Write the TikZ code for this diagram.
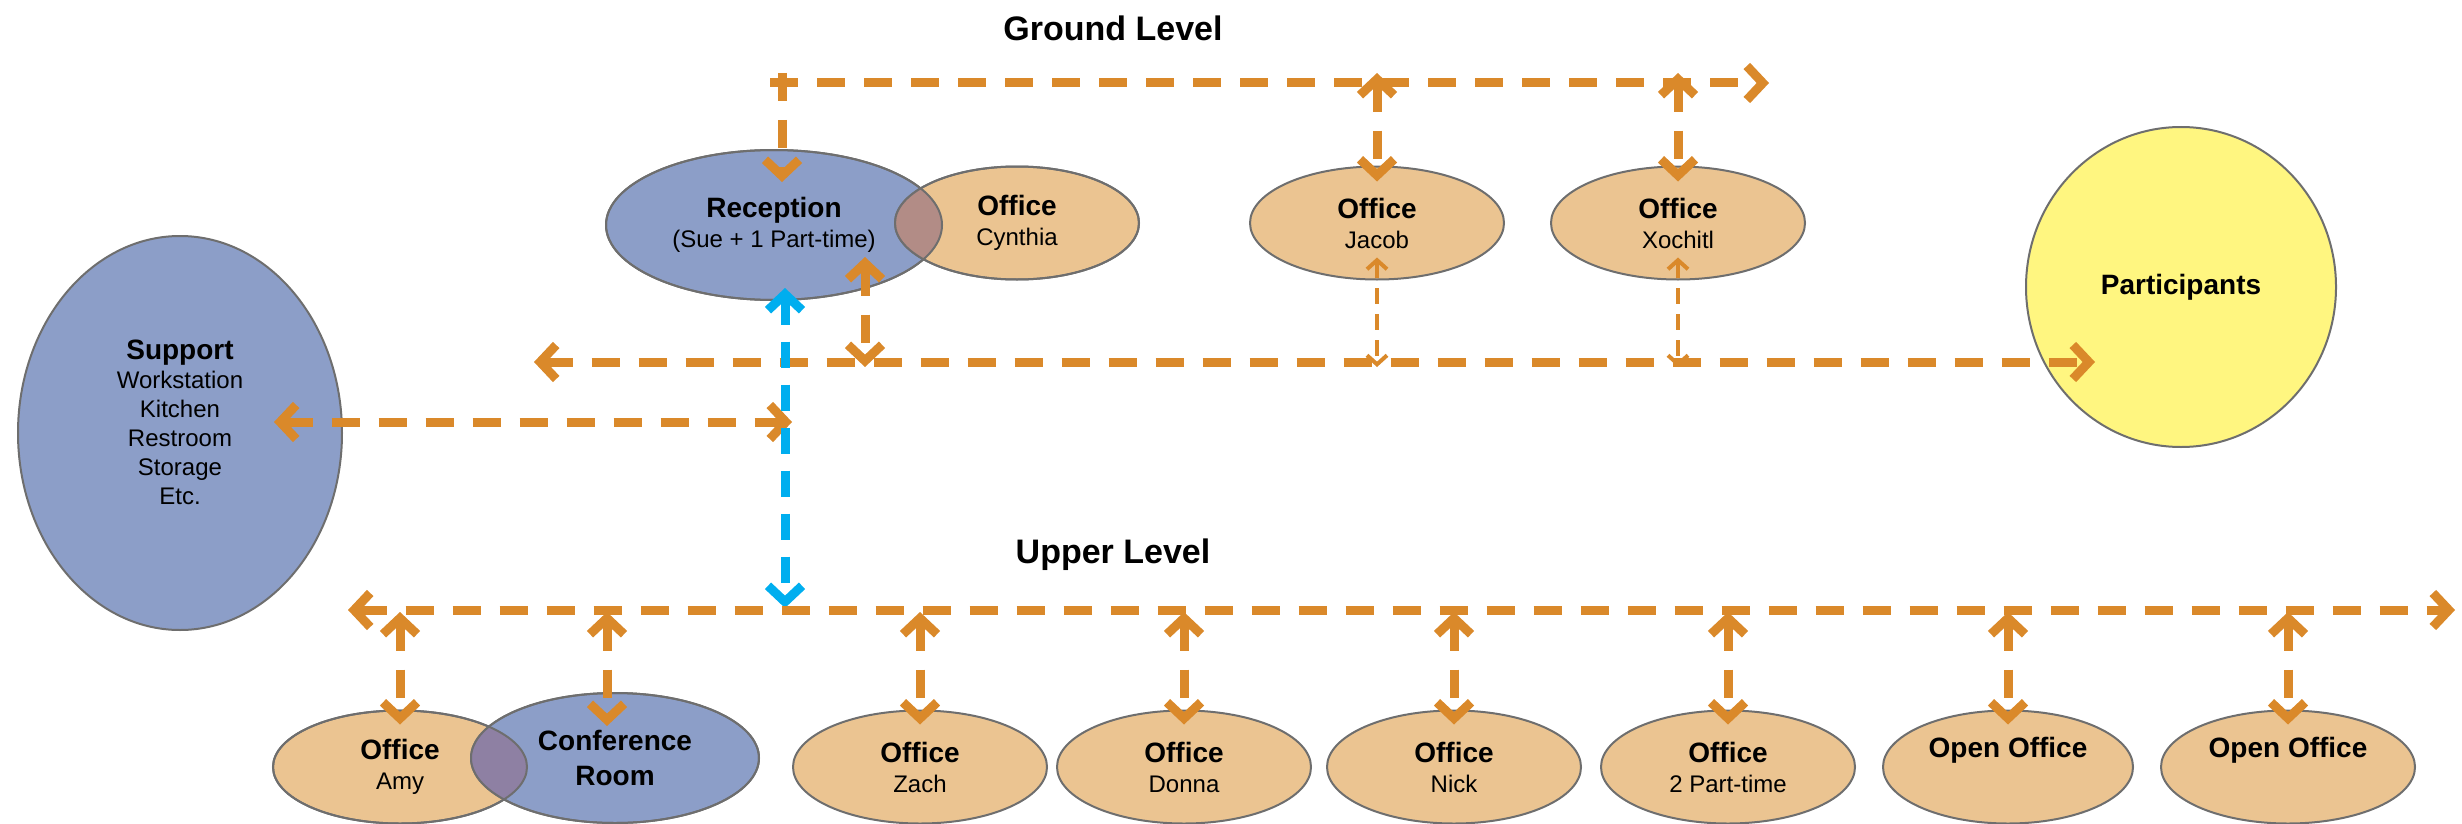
\documentclass[tikz,border=0pt]{standalone}
\usepackage{fontspec}
\setmainfont{Liberation Sans}
\usetikzlibrary{shapes.geometric,arrows.meta,calc}
\definecolor{org}{RGB}{218,137,42}
\definecolor{ofill}{RGB}{235,196,145}
\definecolor{bfill}{RGB}{140,158,200}
\definecolor{yfill}{RGB}{255,246,128}
\definecolor{cyanl}{RGB}{0,174,239}
\definecolor{edge}{RGB}{110,110,110}
\definecolor{ovla}{RGB}{178,140,134}
\definecolor{ovlb}{RGB}{142,128,163}
\newcommand\rmhead[1]{{\bfseries\fontsize{28}{30}\selectfont #1}}
\tikzset{
  ob/.tip={Straight Barb[length=16pt,width=34pt]},
  sob/.tip={Straight Barb[length=9pt,width=20pt]},
  room/.style={ellipse, draw=edge, line width=2pt, inner sep=0pt, align=center,
    font=\fontsize{24}{30}\selectfont, text=black},
  ofc/.style={room, fill=ofill, minimum width=254pt, minimum height=113pt},
  conn/.style={draw=org, line width=9pt, dash pattern=on 28pt off 19pt},
  thinconn/.style={draw=org, line width=4pt, dash pattern=on 16pt off 10pt},
  blueconn/.style={draw=cyanl, line width=9pt, dash pattern=on 26pt off 17pt},
  ttl/.style={font=\bfseries\fontsize{34}{40}\selectfont}
}
\begin{document}
\begin{tikzpicture}[x=1pt,y=-1pt]
\useasboundingbox (0,0) rectangle (2462,824);
% titles
\node[ttl] (gltitle) at (1113,28) {Ground Level};
\node[ttl] (ultitle) at (1113,555) {Upper Level};
% ground level rooms
\node[room, fill=bfill, minimum width=336pt, minimum height=150pt] (rec) at (774,225)
  {\rmhead{Reception}\\(Sue + 1 Part-time)};
\node[ofc, minimum width=244pt] (cyn) at (1017,223) {\rmhead{Office}\\Cynthia};
\begin{scope}
  \clip (rec.center) ellipse [x radius=168pt, y radius=75pt];
  \fill[ovla] (cyn.center) ellipse [x radius=122pt, y radius=56.5pt];
\end{scope}
\draw[edge, line width=2pt] (rec.center) ellipse [x radius=168pt, y radius=75pt];
\draw[edge, line width=2pt] (cyn.center) ellipse [x radius=122pt, y radius=56.5pt];
\node[ofc] (jac) at (1377,223) {\rmhead{Office}\\Jacob};
\node[ofc] (xoc) at (1678,223) {\rmhead{Office}\\Xochitl};
\node[room, fill=yfill, minimum width=310pt, minimum height=320pt] (par) at (2181,287) {\rmhead{Participants}};
\node[room, fill=bfill, minimum width=324pt, minimum height=394pt,
  label={[align=center, font=\fontsize{24}{29}\selectfont, yshift=11pt]center:{\rmhead{Support}\\Workstation\\Kitchen\\Restroom\\Storage\\Etc.}}] (sup) at (180,433) {};
% upper level rooms
\node[ofc] (amy) at (400,767) {\rmhead{Office}\\Amy};
\node[room, fill=bfill, minimum width=288pt, minimum height=130pt] (conf) at (615,758) {\rmhead{Conference}\\[5pt]\rmhead{Room}};
\begin{scope}
  \clip (amy.center) ellipse [x radius=127pt, y radius=56.5pt];
  \fill[ovlb] (conf.center) ellipse [x radius=144pt, y radius=65pt];
\end{scope}
\draw[edge, line width=2pt] (amy.center) ellipse [x radius=127pt, y radius=56.5pt];
\draw[edge, line width=2pt] (conf.center) ellipse [x radius=144pt, y radius=65pt];
\node[ofc] (zach) at (920,767) {\rmhead{Office}\\Zach};
\node[ofc] (donna) at (1184,767) {\rmhead{Office}\\Donna};
\node[ofc] (nick) at (1454,767) {\rmhead{Office}\\Nick};
\node[ofc] (pt2) at (1728,767) {\rmhead{Office}\\2 Part-time};
\node[ofc, minimum width=250pt] (oo1) at (2008,767) {\rmhead{Open Office}\\\strut};
\node[ofc] (oo2) at (2288,767) {\rmhead{Open Office}\\\strut};
% ground level connectors
\coordinate (gtop) at (0,73);
\coordinate (gl) at (770,83);
\coordinate (gr) at (1769,83);
\coordinate (rtop) at (782,73);
\coordinate (ll) at (534,362);
\coordinate (lr) at (2095,362);
\coordinate (ltip) at (0,367);
\coordinate (lrec) at (865,367);
\draw[conn,-ob] (gl) -- (gr);
\draw[conn,-ob] (rtop) -- ($(rec.north)+(8,33)$);
\draw[conn,ob-ob] (jac.north |- gtop) -- ([yshift=-16pt]jac.north);
\draw[conn,ob-ob] (xoc.north |- gtop) -- ([yshift=-16pt]xoc.north);
\draw[conn,ob-ob] (ll) -- (lr);
\draw[conn,ob-ob] ($(rec.center)+(91,32)$) -- (lrec);
\draw[thinconn,sob-sob] ([yshift=23pt]jac.south) -- (jac.south |- ltip);
\draw[thinconn,sob-sob] ([yshift=23pt]xoc.south) -- (xoc.south |- ltip);
% support connector
\coordinate (sr) at (792,422);
\draw[conn,ob-ob] ($(sup.east)+(-69,-11)$) -- (sr);
% stair (blue)
\coordinate (bu) at (785,608);
\draw[blueconn,ob-ob] ($(rec.south)+(11,-13)$) -- (bu);
% upper level connectors
\coordinate (ul) at (348,610);
\coordinate (ur) at (2455,610);
\coordinate (utop) at (0,612);
\draw[conn,ob-ob] (ul) -- (ur);
\foreach \n in {amy,zach,donna,nick,pt2,oo1,oo2}
  \draw[conn,ob-ob] (\n.north |- utop) -- ([yshift=-15pt]\n.north);
\draw[conn,ob-ob] ($(conf.north |- utop)+(-8,0)$) -- ($(conf.north)+(-8,34)$);
\end{tikzpicture}
\end{document}
